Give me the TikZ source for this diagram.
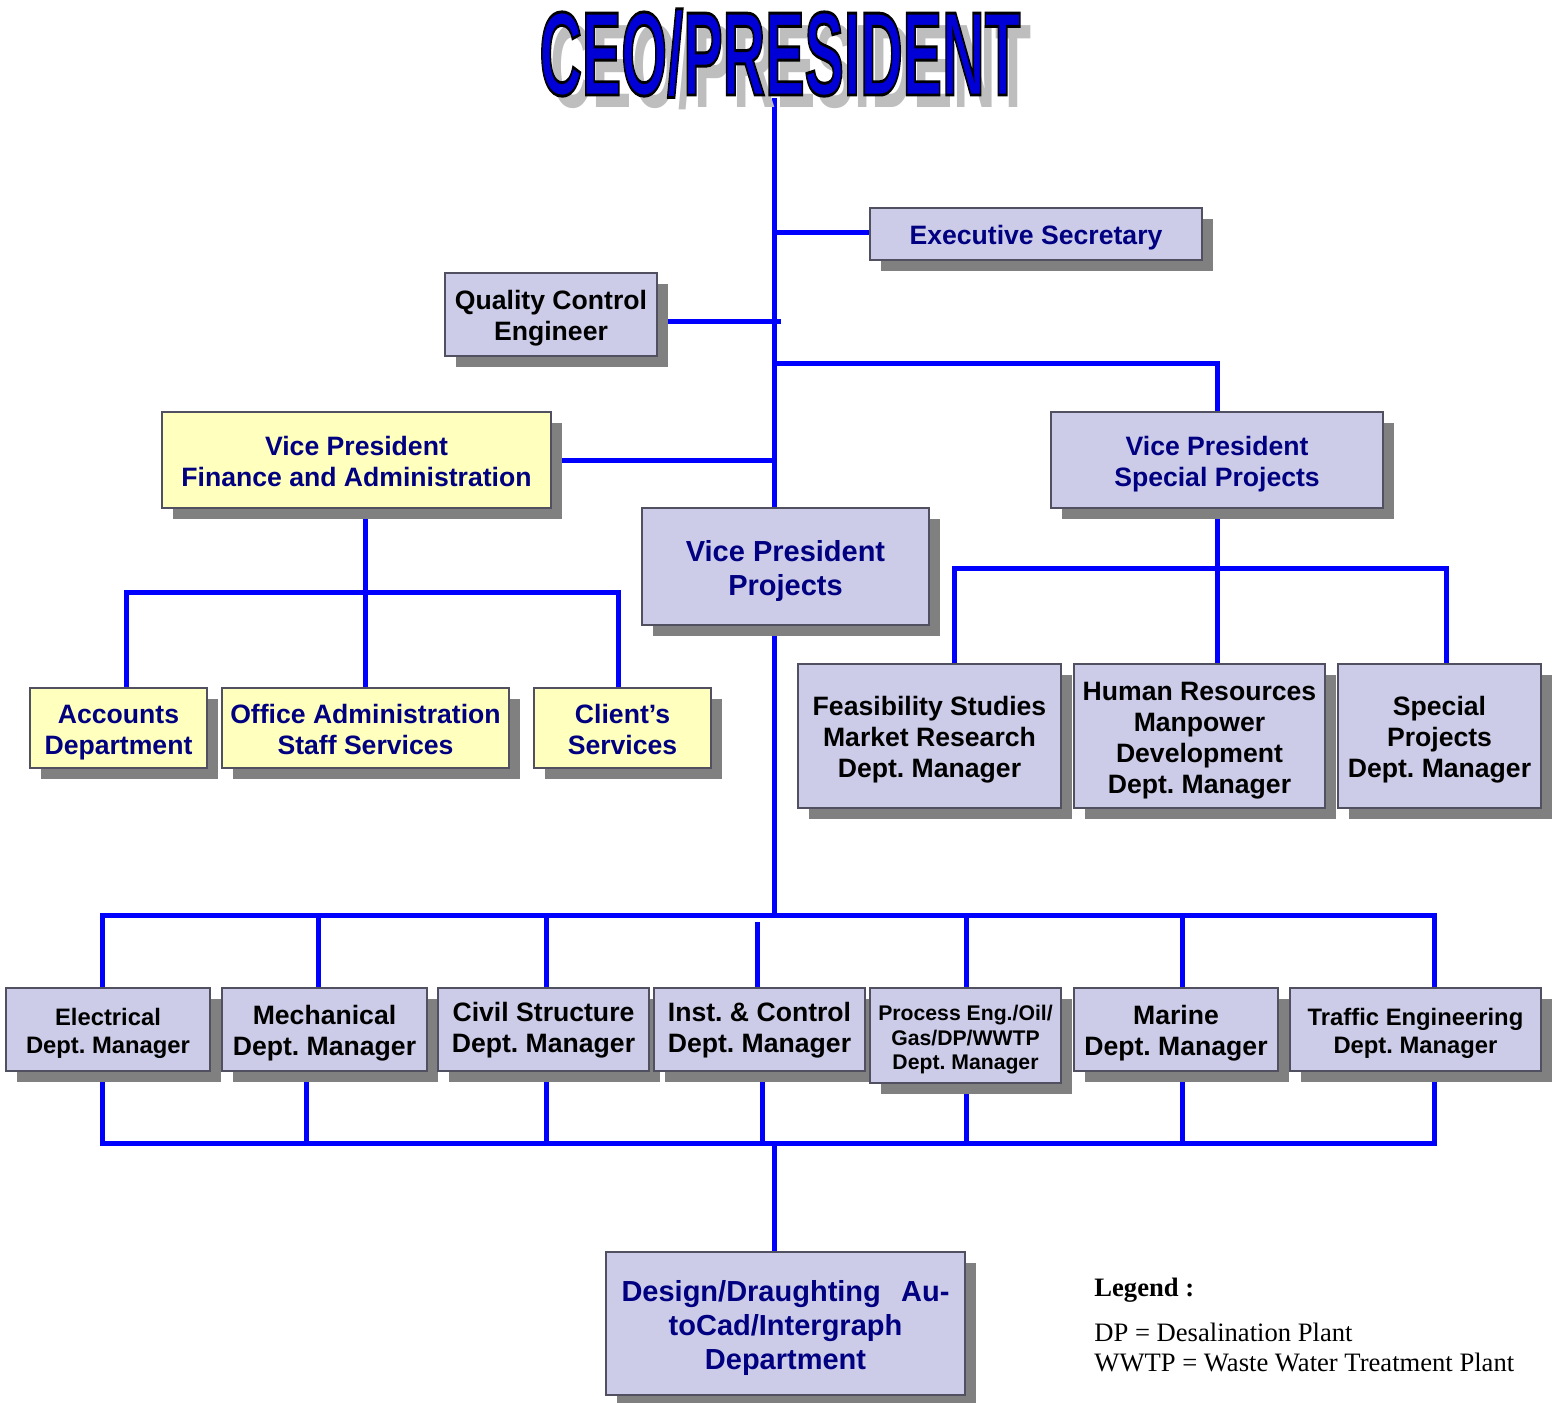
\documentclass[tikz,border=0pt]{standalone}
\usepackage{fontspec}
\setmainfont{Liberation Sans}
\newfontfamily\legendfont{Liberation Serif}
\newfontfamily\ceofont[BoldFeatures={FakeBold=2.5}]{Liberation Sans}
\usetikzlibrary{shadows}
\pgfdeclarelayer{bg}
\pgfsetlayers{bg,main}
\definecolor{boxfill}{RGB}{204,204,232}
\definecolor{yelfill}{RGB}{255,255,190}
\definecolor{bordercol}{RGB}{80,80,96}
\definecolor{shadowcol}{RGB}{128,128,128}
\definecolor{navy}{RGB}{0,0,128}
\definecolor{lineblue}{RGB}{0,0,255}
\definecolor{titleshadow}{RGB}{190,190,190}
\frenchspacing
\def\tlshift{4pt}
\newcommand\up{\rule{0pt}{\dimexpr0.73em+\tlshift\relax}}
\newcommand\ceoplain{\scalebox{0.495}[1]{\fontsize{59.5}{60}\selectfont\bfseries CEO/PRESIDENT}}
\newcommand\ceooutlined{\special{pdf:bcolor [0 0 0.84] [0 0 0]}\scalebox{0.495}[1]{\ceofont\fontsize{59.5}{60}\selectfont\bfseries CEO/PRESIDENT}\special{pdf:ecolor}}
\begin{document}
\begin{tikzpicture}[x=0.5pt,y=-0.5pt,
  conn/.style={draw=lineblue, line width=2.5pt, line join=miter},
  tl/.code={\def\tlshift{#1}},
  box/.style={draw=bordercol, line width=0.75pt, fill=boxfill,
    general shadow={fill=shadowcol, shadow xshift=5.5pt, shadow yshift=-5.5pt},
    inner sep=0pt, outer sep=0pt, align=center,
    font=\bfseries\fontsize{13.3}{15.5}\selectfont},
  ybox/.style={box, fill=yelfill, text=navy},
  vbox/.style={box, text=navy},
  big/.style={font=\bfseries\fontsize{14.5}{17}\selectfont},
  small/.style={font=\bfseries\fontsize{11.9}{13.7}\selectfont},
  tiny/.style={font=\bfseries\fontsize{10.6}{12.3}\selectfont},
  legend/.style={anchor=base west, inner sep=0pt, font=\legendfont\fontsize{13.3}{15}\selectfont}
]
\useasboundingbox (0,0) rectangle (1556,1402);

% ---------- title ----------
\node[anchor=base, inner sep=0pt, text=titleshadow] (ceoshadow) at (791,107) {\ceoplain};
\node[anchor=base, inner sep=0pt] (ceo) at (780,95) {\ceooutlined};

% ---------- boxes ----------
\node[vbox, minimum width=166pt, minimum height=26pt] (exec) at (1036,234) {\up Executive Secretary};
\node[box, minimum width=106pt, minimum height=41.5pt] (qc) at (551,314.5) {\up Quality Control\\Engineer};
\node[ybox, tl=1pt, minimum width=194.5pt, minimum height=48pt] (vpfin) at (356.5,460) {\up Vice President\\Finance and Administration};
\node[vbox, minimum width=166pt, minimum height=48pt] (vpsp) at (1217,460) {\up Vice President\\Special Projects};
\node[vbox, big, minimum width=143.5pt, minimum height=58.5pt] (vpproj) at (785.5,566.5) {\up Vice President\\Projects};
\node[ybox, minimum width=88.5pt, minimum height=40pt] (acc) at (118.5,728) {\up Accounts\\Department};
\node[ybox, tl=1pt, minimum width=143.5pt, minimum height=40pt] (office) at (365.5,728) {\up Office Administration\\Staff Services};
\node[ybox, tl=1pt, minimum width=88.5pt, minimum height=40pt] (client) at (622.5,728) {\up Client’s\\Services};
\node[box, minimum width=131.5pt, minimum height=72pt] (feas) at (929.5,736) {\up Feasibility Studies\\Market Research\\Dept. Manager};
\node[box, minimum width=125.5pt, minimum height=72pt] (hr) at (1199.5,736) {\up Human Resources\\Manpower\\Development\\Dept. Manager};
\node[box, minimum width=101.5pt, minimum height=72pt] (spec) at (1439.5,736) {\up Special\\Projects\\Dept. Manager};
\node[box, small, minimum width=102pt, minimum height=41.5pt] (elec) at (108,1029.5) {\up Electrical\\Dept. Manager};
\node[box, minimum width=102.5pt, minimum height=41.5pt] (mech) at (324.5,1029.5) {\up Mechanical\\Dept. Manager};
\node[box, tl=1pt, minimum width=105.5pt, minimum height=41.5pt] (civil) at (543.5,1029.5) {\up Civil Structure\\Dept. Manager};
\node[box, tl=1pt, minimum width=105.5pt, minimum height=41.5pt] (inst) at (759.5,1029.5) {\up Inst. \& Control\\Dept. Manager};
\node[box, tiny, minimum width=95.5pt, minimum height=47.5pt] (proc) at (965.5,1035.5) {\up Process Eng./Oil/\\Gas/DP/WWTP\\Dept. Manager};
\node[box, minimum width=102pt, minimum height=41.5pt] (marine) at (1176,1029.5) {\up Marine\\Dept. Manager};
\node[box, small, minimum width=125.5pt, minimum height=41.5pt] (traffic) at (1415.5,1029.5) {\up Traffic Engineering\\Dept. Manager};
\node[vbox, big, minimum width=179.5pt, minimum height=71.5pt] (design) at (785.5,1323.5) {\up Design/Draughting\hspace{0.7em}Au-\\toCad/Intergraph\\Department};

% ---------- helper coordinates ----------
\coordinate (sp) at (774,0);
\coordinate (spt) at (774,98);
\coordinate (exb) at (774,232);
\coordinate (qcl) at (781,321);
\coordinate (spb) at (774,363);
\coordinate (fa) at (126,592);
\coordinate (fc) at (618,592);
\coordinate (sa) at (954,568);
\coordinate (sc) at (1446,568);
\coordinate (bl) at (102,915);
\coordinate (bm) at (774,915);
\coordinate (br) at (1434,915);
\coordinate (d2) at (318,915);
\coordinate (d3) at (546,915);
\coordinate (d4) at (757,922);
\coordinate (d5) at (966,915);
\coordinate (d6) at (1182,915);
\coordinate (ul) at (102,1143);
\coordinate (um) at (774,1143);
\coordinate (ur) at (1434,1143);
\coordinate (u2) at (306,1143);
\coordinate (u3) at (546,1143);
\coordinate (u4) at (762,1143);
\coordinate (u5) at (966,1143);
\coordinate (u6) at (1182,1143);

% ---------- connectors (under the boxes) ----------
\begin{pgfonlayer}{bg}
\draw[conn] (spt) -- (vpproj.north -| sp);
\draw[conn] (exb) -- (exec.west |- exb);
\draw[conn] (qc.east |- qcl) -- (qcl);
\draw[conn] (vpfin.east) -- (vpfin.east -| sp);
\draw[conn] (spb) -| (vpsp.north);
\draw[conn] (vpproj.south -| sp) -- (bm);
\draw[conn] (um) -- (design.north -| sp);
% finance subtree
\draw[conn] (vpfin.south -| office.north) -- (office.north);
\draw[conn] (acc.north -| fa) -- (fa) -- (fc) -- (client.north -| fc);
% special projects subtree
\draw[conn] (vpsp.south) -- (vpsp.south |- hr.north);
\draw[conn] (feas.north -| sa) -- (sa) -- (sc) -- (spec.north -| sc);
% top bus
\draw[conn] (elec.north -| bl) -- (bl) -- (br) -- (traffic.north -| br);
\draw[conn] (d2) -- (mech.north -| d2);
\draw[conn] (d3) -- (civil.north -| d3);
\draw[conn] (d4) -- (inst.north -| d4);
\draw[conn] (d5) -- (proc.north -| d5);
\draw[conn] (d6) -- (marine.north -| d6);
% bottom bus
\draw[conn] (elec.south -| ul) -- (ul) -- (ur) -- (traffic.south -| ur);
\draw[conn] (mech.south -| u2) -- (u2);
\draw[conn] (civil.south -| u3) -- (u3);
\draw[conn] (inst.south -| u4) -- (u4);
\draw[conn] (proc.south -| u5) -- (u5);
\draw[conn] (marine.south -| u6) -- (u6);
\end{pgfonlayer}

% ---------- legend ----------
\node[legend] (leg1) at (1094,1296) {\bfseries Legend :};
\node[legend] (leg2) at (1094,1341) {DP = Desalination Plant};
\node[legend] (leg3) at (1094,1371) {WWTP = Waste Water Treatment Plant};
\end{tikzpicture}
\end{document}
